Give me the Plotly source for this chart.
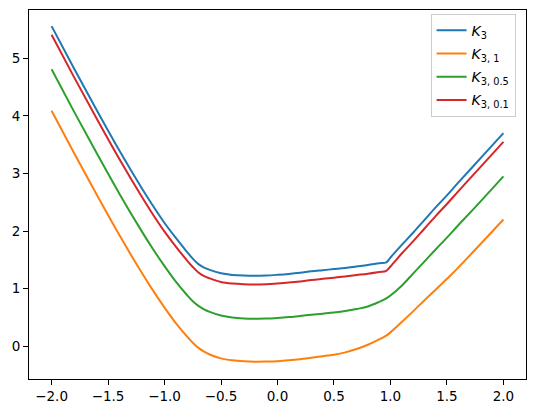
import plotly.graph_objects as go

x_vals = [-2.0, -1.8, -1.6, -1.4, -1.2, -1.1, -1.0, -0.9, -0.8, -0.75, -0.7, -0.65, -0.6, -0.5, -0.4,
          -0.3, -0.2, -0.1, 0.0, 0.1, 0.2, 0.3, 0.4, 0.5, 0.6, 0.7, 0.8, 0.9, 0.963, 1.0,
          1.1, 1.2, 1.3, 1.4, 1.5, 1.6, 1.8, 2.0]

k3 = [5.56, 4.82, 4.10, 3.40, 2.74, 2.43, 2.14, 1.88, 1.635, 1.52, 1.425, 1.365, 1.325, 1.266, 1.238,
      1.226, 1.222, 1.228, 1.24, 1.255, 1.275, 1.30, 1.32, 1.34, 1.36, 1.385, 1.41, 1.44, 1.457, 1.54,
      1.76, 1.97, 2.19, 2.41, 2.62, 2.84, 3.27, 3.70]

k3_1 = [4.09, 3.35, 2.63, 1.93, 1.27, 0.96, 0.67, 0.40, 0.165, 0.06, -0.03, -0.095, -0.144, -0.212, -0.245,
        -0.262, -0.27, -0.268, -0.26, -0.245, -0.225, -0.20, -0.175, -0.148, -0.108, -0.05, 0.025, 0.118, 0.185, 0.24,
        0.42, 0.605, 0.795, 0.98, 1.17, 1.365, 1.78, 2.20]

k3_05 = [4.81, 4.07, 3.35, 2.65, 1.99, 1.68, 1.39, 1.12, 0.885, 0.78, 0.70, 0.64, 0.595, 0.532, 0.498,
         0.483, 0.478, 0.48, 0.49, 0.505, 0.525, 0.545, 0.565, 0.585, 0.61, 0.645, 0.69, 0.77, 0.83, 0.88,
         1.05, 1.26, 1.47, 1.68, 1.885, 2.10, 2.52, 2.95]

k3_01 = [5.41, 4.67, 3.95, 3.25, 2.59, 2.28, 1.99, 1.73, 1.487, 1.375, 1.28, 1.218, 1.178, 1.116, 1.088,
         1.076, 1.072, 1.078, 1.09, 1.105, 1.125, 1.15, 1.17, 1.19, 1.21, 1.235, 1.26, 1.29, 1.31, 1.385,
         1.61, 1.82, 2.04, 2.26, 2.47, 2.69, 3.12, 3.55]

series = [
    ("<i>K</i><sub>3</sub>", k3, "#1f77b4"),
    ("<i>K</i><sub>3, 1</sub>", k3_1, "#ff7f0e"),
    ("<i>K</i><sub>3, 0.5</sub>", k3_05, "#2ca02c"),
    ("<i>K</i><sub>3, 0.1</sub>", k3_01, "#d62728"),
]

x_ticks = [-2.0, -1.5, -1.0, -0.5, 0.0, 0.5, 1.0, 1.5, 2.0]
x_ticktext = ["\u22122.0", "\u22121.5", "\u22121.0", "\u22120.5", "0.0", "0.5", "1.0", "1.5", "2.0"]
y_ticks = [0, 1, 2, 3, 4, 5]
y_ticktext = ["0", "1", "2", "3", "4", "5"]

fig = go.Figure()
for i, (name, ys, color) in enumerate(series):
    fig.add_trace(go.Scatter(x=x_vals, y=ys, mode="lines", name=name, legendgroup=f"g{i}",
                             line=dict(color=color, width=2, shape="spline", smoothing=1.0)))

axis_common = dict(showgrid=False, zeroline=False, showline=True, mirror=True,
                   linecolor="black", linewidth=1, ticks="outside", ticklen=5,
                   tickwidth=1, tickcolor="black",
                   tickfont=dict(family="DejaVu Sans", size=13.5, color="black"))

fig.update_layout(
    width=534, height=413,
    margin=dict(l=29, r=8, t=10, b=34),
    paper_bgcolor="white", plot_bgcolor="white",
    font=dict(family="DejaVu Sans", size=13.5, color="black"),
    xaxis=dict(range=[-2.2, 2.2], tickvals=x_ticks, ticktext=x_ticktext, **axis_common),
    yaxis=dict(range=[-0.57, 5.84], tickvals=y_ticks, ticktext=y_ticktext, **axis_common),
    legend=dict(x=0.979, y=0.99, xanchor="right", yanchor="top",
                bgcolor="rgba(255,255,255,0.8)", bordercolor="#cccccc", borderwidth=1,
                font=dict(family="DejaVu Sans", size=14, color="black"),
                tracegroupgap=2),
    showlegend=True,
)

fig.write_html("out.html")
